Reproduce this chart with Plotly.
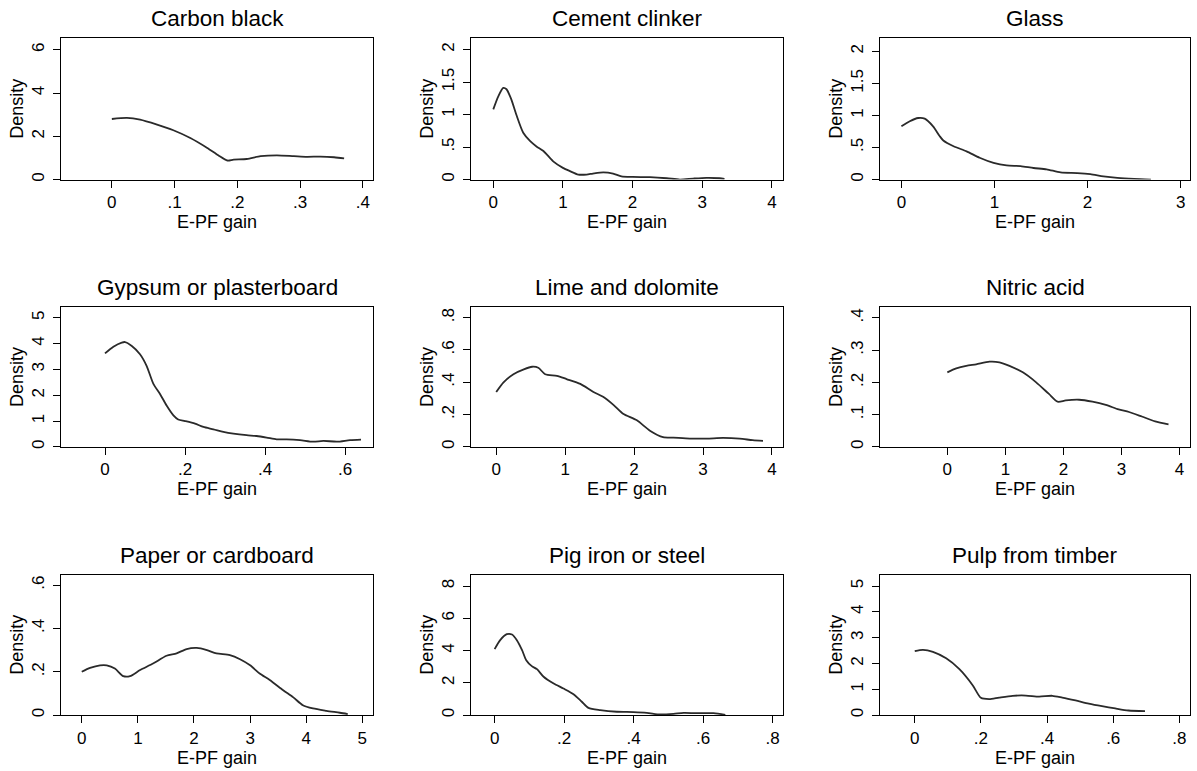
import plotly.graph_objects as go

W, H = 1197, 771

titles = ["Carbon black", "Cement clinker", "Glass",
          "Gypsum or plasterboard", "Lime and dolomite", "Nitric acid",
          "Paper or cardboard", "Pig iron or steel", "Pulp from timber"]

# --- density curves ---
carbon_x = [0, .024, .045, .072, .098, .125, .152, .170, .184, .194, .215, .237, .263, .29, .311, .332, .354, .37]
carbon_y = [2.8, 2.85, 2.77, 2.54, 2.28, 1.92, 1.46, 1.11, 0.88, 0.92, 0.95, 1.08, 1.12, 1.08, 1.05, 1.06, 1.03, 0.98]

cement_x = [0, .072, .143, .19, .26, .33, .43, .53, .62, .72, .86, 1.0, 1.1, 1.22, 1.34, 1.43, 1.58, 1.72, 1.84, 2.0, 2.25, 2.49, 2.68, 2.87, 3.06, 3.25, 3.32]
cement_y = [1.08, 1.28, 1.41, 1.39, 1.23, 1.0, 0.72, 0.59, 0.51, 0.44, 0.28, 0.18, 0.13, 0.077, 0.077, 0.092, 0.11, 0.092, 0.05, 0.04, 0.036, 0.02, 0.0, 0.015, 0.026, 0.02, 0.01]

glass_x = [0, .09, .18, .25, .34, .41, .45, .56, .70, .84, .99, 1.13, 1.28, 1.42, 1.56, 1.71, 1.89, 2.03, 2.17, 2.32, 2.5, 2.68]
glass_y = [0.83, 0.91, 0.96, 0.95, 0.83, 0.68, 0.61, 0.52, 0.44, 0.34, 0.26, 0.22, 0.21, 0.18, 0.16, 0.11, 0.10, 0.083, 0.05, 0.026, 0.01, 0.0]

gypsum_x = [0, .021, .042, .05, .067, .0875, .104, .121, .1375, .154, .171, .183, .2, .225, .246, .271, .296, .321, .354, .379, .404, .429, .454, .4875, .52, .546, .58, .6125, .64]
gypsum_y = [3.62, 3.88, 4.04, 4.06, 3.91, 3.59, 3.14, 2.44, 2.05, 1.6, 1.22, 1.06, 1.0, 0.9, 0.77, 0.68, 0.58, 0.51, 0.45, 0.42, 0.36, 0.29, 0.29, 0.26, 0.2, 0.23, 0.2, 0.26, 0.28]

lime_x = [0, .106, .25, .40, .52, .61, .71, .88, 1.02, 1.22, 1.41, 1.55, 1.70, 1.84, 2.04, 2.23, 2.42, 2.57, 2.81, 3.05, 3.29, 3.53, 3.72, 3.87]
lime_y = [0.34, 0.40, 0.45, 0.48, 0.496, 0.49, 0.45, 0.44, 0.42, 0.39, 0.34, 0.31, 0.26, 0.205, 0.164, 0.10, 0.06, 0.057, 0.051, 0.051, 0.055, 0.051, 0.041, 0.037]

nitric_x = [0, .154, .326, .497, .726, .897, 1.07, 1.30, 1.53, 1.75, 1.9, 2.04, 2.27, 2.5, 2.73, 2.95, 3.13, 3.35, 3.58, 3.81]
nitric_y = [0.231, 0.243, 0.251, 0.256, 0.264, 0.262, 0.251, 0.231, 0.2, 0.164, 0.14, 0.144, 0.146, 0.14, 0.13, 0.116, 0.108, 0.094, 0.079, 0.07]

paper_x = [0, .148, .326, .445, .59, .74, .86, 1.04, 1.27, 1.51, 1.69, 1.87, 2.05, 2.23, 2.4, 2.64, 2.82, 3.0, 3.17, 3.35, 3.59, 3.77, 3.94, 4.12, 4.36, 4.6, 4.74]
paper_y = [0.2, 0.218, 0.23, 0.23, 0.215, 0.18, 0.18, 0.208, 0.238, 0.274, 0.285, 0.305, 0.31, 0.30, 0.285, 0.277, 0.258, 0.23, 0.192, 0.162, 0.115, 0.082, 0.046, 0.031, 0.02, 0.011, 0.005]

pig_x = [0, .016, .035, .05, .064, .079, .091, .107, .122, .141, .17, .198, .227, .251, .27, .304, .352, .4, .438, .477, .515, .544, .592, .63, .664]
pig_y = [4.09, 4.65, 5.02, 5.0, 4.65, 4.03, 3.41, 3.04, 2.85, 2.38, 1.96, 1.65, 1.30, 0.83, 0.45, 0.31, 0.21, 0.19, 0.145, 0.04, 0.08, 0.145, 0.12, 0.12, 0.02]

pulp_x = [0, .025, .055, .095, .135, .175, .2, .225, .255, .296, .336, .376, .416, .446, .486, .526, .566, .606, .646, .696]
pulp_y = [2.48, 2.53, 2.45, 2.2, 1.78, 1.16, 0.67, 0.62, 0.68, 0.75, 0.76, 0.72, 0.75, 0.68, 0.57, 0.45, 0.35, 0.26, 0.18, 0.155]

series_x = [carbon_x, cement_x, glass_x, gypsum_x, lime_x, nitric_x, paper_x, pig_x, pulp_x]
series_y = [carbon_y, cement_y, glass_y, gypsum_y, lime_y, nitric_y, paper_y, pig_y, pulp_y]

# --- axis ticks ---
x_tickvals = [[0, .1, .2, .3, .4], [0, 1, 2, 3, 4], [0, 1, 2, 3],
              [0, .2, .4, .6], [0, 1, 2, 3, 4], [0, 1, 2, 3, 4],
              [0, 1, 2, 3, 4, 5], [0, .2, .4, .6, .8], [0, .2, .4, .6, .8]]
x_ticktext = [["0", ".1", ".2", ".3", ".4"], ["0", "1", "2", "3", "4"], ["0", "1", "2", "3"],
              ["0", ".2", ".4", ".6"], ["0", "1", "2", "3", "4"], ["0", "1", "2", "3", "4"],
              ["0", "1", "2", "3", "4", "5"], ["0", ".2", ".4", ".6", ".8"], ["0", ".2", ".4", ".6", ".8"]]
y_tickvals = [[0, 2, 4, 6], [0, .5, 1, 1.5, 2], [0, .5, 1, 1.5, 2],
              [0, 1, 2, 3, 4, 5], [0, .2, .4, .6, .8], [0, .1, .2, .3, .4],
              [0, .2, .4, .6], [0, 2, 4, 6, 8], [0, 1, 2, 3, 4, 5]]
y_ticktext = [["0", "2", "4", "6"], ["0", ".5", "1", "1.5", "2"], ["0", ".5", "1", "1.5", "2"],
              ["0", "1", "2", "3", "4", "5"], ["0", ".2", ".4", ".6", ".8"], ["0", ".1", ".2", ".3", ".4"],
              ["0", ".2", ".4", ".6"], ["0", "2", "4", "6", "8"], ["0", "1", "2", "3", "4", "5"]]

x_ranges = [[-0.081, 0.416], [-0.32, 4.16], [-0.23, 3.1],
            [-0.11, 0.67], [-0.366, 4.16], [-1.16, 4.18],
            [-0.37, 5.19], [-0.068, 0.83], [-0.105, 0.832]]
y_ranges = [[0, 6.55], [0, 2.18], [0, 2.21],
            [0, 5.41], [0, 0.865], [0, 0.433],
            [0, 0.649], [0, 8.72], [0, 5.45]]

# plot boxes in pixels (left, right, top, bottom)
col_px = [(61, 373), (471, 783), (880, 1190)]
row_px = [(38, 180), (308, 448), (576, 717)]

FONT = "Liberation Sans, Arial, Helvetica, sans-serif"
fig = go.Figure()
annotations = []
layout = {}
for i in range(9):
    r, c = divmod(i, 3)
    l, rr = col_px[c]
    t, b = row_px[r]
    n = "" if i == 0 else str(i + 1)
    xa, ya = "x" + n, "y" + n
    fig.add_trace(go.Scatter(x=series_x[i], y=series_y[i], mode="lines",
                             line=dict(color="#2a2a2a", width=1.8, shape="spline", smoothing=0.7),
                             xaxis=xa, yaxis=ya, showlegend=False, hoverinfo="skip"))
    common = dict(showline=True, mirror=True, linecolor="#000", linewidth=1,
                  ticks="outside", ticklen=7, tickcolor="#000", tickwidth=1,
                  showgrid=False, zeroline=False, fixedrange=True,
                  tickfont=dict(family=FONT, size=17, color="#000"))
    layout["xaxis" + n] = dict(domain=[l / W, rr / W], range=x_ranges[i],
                               tickvals=x_tickvals[i], ticktext=x_ticktext[i],
                               anchor=ya,
                               title=dict(text="E-PF gain", font=dict(family=FONT, size=18, color="#000"), standoff=4),
                               **common)
    layout["yaxis" + n] = dict(domain=[1 - b / H, 1 - t / H], range=y_ranges[i],
                               tickvals=y_tickvals[i], ticktext=y_ticktext[i],
                               tickangle=-90, anchor=xa, ticklabelstandoff=2,
                               title=dict(text="Density", font=dict(family=FONT, size=18, color="#000"), standoff=0),
                               **common)
    annotations.append(dict(text=titles[i], x=(l + rr) / 2 / W, y=1 - (t - 5) / H,
                            xref="paper", yref="paper", xanchor="center", yanchor="bottom",
                            showarrow=False, font=dict(family=FONT, size=22.5, color="#000")))

fig.update_layout(width=W, height=H, autosize=False,
                  margin=dict(l=0, r=0, t=0, b=0),
                  paper_bgcolor="white", plot_bgcolor="white",
                  annotations=annotations, **layout)

fig.write_html("out.html")
